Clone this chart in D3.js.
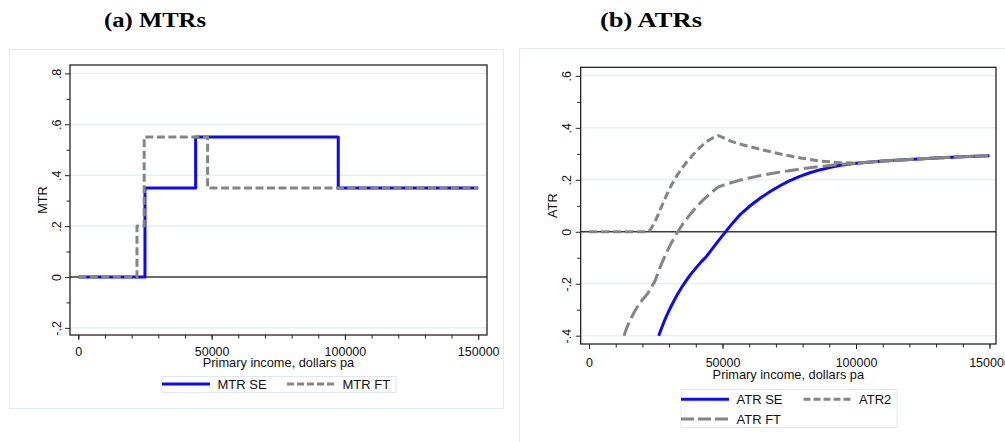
<!DOCTYPE html>
<html>
<head>
<meta charset="utf-8">
<script src="https://cdn.jsdelivr.net/npm/d3@7/dist/d3.min.js"></script>
<style>
  html, body { margin: 0; padding: 0; background: #fff; }
  svg { display: block; font-family: "Liberation Sans", Arial, sans-serif; }
</style>
</head>
<body>
<svg id="chart" width="1005" height="442"></svg>
<script>
// ---- Data -------------------------------------------------------------
// Marginal tax rates: step schedules (rate applies from the income shown)
const mtrSeIncome = [0, 25000, 44000, 97500, 150000];
const mtrSeRate   = [0, 0.35, 0.55, 0.35, 0.35];
const mtrFtIncome = [0, 22000, 24700, 48500, 150000];
const mtrFtRate   = [0, 0.20, 0.55, 0.35, 0.35];

// Average tax rates
const atrSeIncome = [26100, 27000, 28000, 29000, 30000, 31000, 32000, 33000, 34000, 35000, 36000, 38000, 40000, 42000,
                     44000, 46000, 48000, 50000, 52000, 54000, 56800, 60000, 64200, 68000, 71700, 75000, 79200, 83000,
                     86700, 90000, 94200, 100000, 110000, 120000, 130000, 140000, 150000];
const atrSeValue  = [-0.400, -0.375, -0.349, -0.325, -0.303, -0.282, -0.262, -0.243, -0.226, -0.209, -0.194, -0.165, -0.140, -0.116,
                     -0.095, -0.068, -0.041, -0.015, 0.011, 0.036, 0.068, 0.097, 0.130, 0.156, 0.178, 0.196, 0.214, 0.228,
                     0.239, 0.247, 0.256, 0.264, 0.272, 0.278, 0.284, 0.289, 0.293];

const atr2Income = [0, 22000, 23000, 24000, 25000, 26000, 27000, 28000, 29000, 30000, 31000, 32000, 33000, 34500,
                    36500, 39000, 41500, 44000, 46500, 48500, 53000, 56700, 64200, 71700, 79200, 86700, 94200,
                    100000, 110000, 120000, 130000, 140000, 150000];
const atr2Value  = [0, 0, 0.008, 0.025, 0.046, 0.069, 0.093, 0.117, 0.140, 0.162, 0.182, 0.200, 0.217, 0.240,
                    0.267, 0.297, 0.324, 0.347, 0.362, 0.370, 0.349, 0.337, 0.317, 0.299, 0.284, 0.272, 0.266,
                    0.264, 0.272, 0.278, 0.284, 0.289, 0.293];

const atrFtIncome = [13100, 14000, 15000, 16000, 17000, 18000, 19000, 20000, 21000, 22000, 23000, 24000, 24700,
                     26000, 27500, 29000, 31000, 33100, 35000, 37500, 40000, 42500, 45000, 48500, 52000, 56000,
                     60000, 65000, 70000, 75000, 80000, 85000, 90000, 95000, 100000, 110000, 120000, 130000, 140000, 150000];
const atrFtValue  = [-0.400, -0.374, -0.349, -0.328, -0.308, -0.291, -0.276, -0.262, -0.250, -0.238, -0.219, -0.202, -0.190,
                     -0.153, -0.115, -0.081, -0.040, -0.002, 0.028, 0.062, 0.093, 0.120, 0.144, 0.173, 0.185, 0.197,
                     0.207, 0.218, 0.227, 0.235, 0.243, 0.249, 0.255, 0.260, 0.264, 0.272, 0.278, 0.284, 0.289, 0.293];

// Axis ticks and labels
const xMajorTicks  = [0, 50000, 100000, 150000];
const xMajorLabels = ["0", "50000", "100000", "150000"];
const xMinorTicks  = d3.range(0, 150001, 10000);

const mtrYTicks  = [-0.2, 0, 0.2, 0.4, 0.6, 0.8];
const mtrYLabels = ["-.2", "0", ".2", ".4", ".6", ".8"];
const mtrYMinor  = [-0.1, 0.1, 0.3, 0.5, 0.7];

const atrYTicks  = [-0.4, -0.2, 0, 0.2, 0.4, 0.6];
const atrYLabels = ["-.4", "-.2", "0", ".2", ".4", ".6"];
const atrYMinor  = [-0.3, -0.1, 0.1, 0.3, 0.5];

const panelTitles = ["(a) MTRs", "(b) ATRs"];
const xTitle = "Primary income, dollars pa";

// ---- Drawing ----------------------------------------------------------
const svg = d3.select("#chart");
const BLUE = "#0a0af5", GREY = "#858585", GRID = "#e6eff1", FRAME = "#e2eaed";

const zip = (xs, ys) => xs.map((x, i) => ({ x, y: ys[i] }));

function drawPanel(p) {
  const g = svg.append("g");

  // outer frame of the panel
  g.append("rect")
    .attr("x", p.frame[0] + 0.5).attr("y", p.frame[1] + 0.5)
    .attr("width", p.frame[2]).attr("height", p.frame[3])
    .attr("fill", "none").attr("stroke", FRAME).attr("stroke-width", 1);

  const x = d3.scaleLinear().domain(p.xDomain).range([p.left, p.right]);
  const y = d3.scaleLinear().domain(p.yDomain).range([p.bottom, p.top]);

  // gridlines
  g.append("g").selectAll("line")
    .data(p.yTicks.filter(v => v !== 0))
    .join("line")
    .attr("x1", p.left).attr("x2", p.right)
    .attr("y1", d => y(d)).attr("y2", d => y(d))
    .attr("stroke", GRID).attr("stroke-width", 1.5);

  // zero line
  g.append("line")
    .attr("x1", p.left).attr("x2", p.right)
    .attr("y1", y(0)).attr("y2", y(0))
    .attr("stroke", "#3a3a3a").attr("stroke-width", 1.3);

  // series
  const lineGen = d3.line().x(d => x(d.x)).y(d => y(d.y)).curve(p.curve);
  p.series.forEach(s => {
    g.append("path")
      .datum(zip(s.xs, s.ys))
      .attr("d", lineGen)
      .attr("fill", "none")
      .attr("stroke", s.color)
      .attr("stroke-width", s.width)
      .attr("stroke-dasharray", s.dash || null)
      .attr("stroke-linejoin", "round");
  });

  // plot box
  g.append("rect")
    .attr("x", p.left).attr("y", p.top)
    .attr("width", p.right - p.left).attr("height", p.bottom - p.top)
    .attr("fill", "none").attr("stroke", "#111").attr("stroke-width", 1.2);

  // x axis: minor then major ticks
  g.append("g")
    .attr("transform", `translate(0,${p.bottom})`)
    .call(d3.axisBottom(x).tickValues(xMinorTicks).tickFormat("").tickSize(3.5).tickSizeOuter(0))
    .call(a => a.select(".domain").remove())
    .call(a => a.selectAll("line").attr("stroke", "#222"));
  g.append("g")
    .attr("transform", `translate(0,${p.bottom})`)
    .call(d3.axisBottom(x).tickValues(xMajorTicks)
      .tickFormat((d, i) => xMajorLabels[i]).tickSize(5).tickSizeOuter(0))
    .call(a => a.select(".domain").remove())
    .call(a => a.selectAll("line").attr("stroke", "#222"))
    .call(a => a.selectAll("text")
      .attr("y", p.xLabelDy).attr("dy", 0)
      .attr("font-size", 12.5).attr("fill", "#111")
      .attr("font-family", "Liberation Sans, Arial, sans-serif"));

  // y axis: minor then major ticks, labels rotated
  g.append("g")
    .attr("transform", `translate(${p.left},0)`)
    .call(d3.axisLeft(y).tickValues(p.yMinor).tickFormat("").tickSize(3.5).tickSizeOuter(0))
    .call(a => a.select(".domain").remove())
    .call(a => a.selectAll("line").attr("stroke", "#222"));
  g.append("g")
    .attr("transform", `translate(${p.left},0)`)
    .call(d3.axisLeft(y).tickValues(p.yTicks)
      .tickFormat((d, i) => p.yLabels[i]).tickSize(5).tickSizeOuter(0))
    .call(a => a.select(".domain").remove())
    .call(a => a.selectAll("line").attr("stroke", "#222"))
    .call(a => a.selectAll("text")
      .attr("x", 0).attr("dy", 0)
      .attr("text-anchor", "middle")
      .attr("transform", "translate(-9.5,0) rotate(-90)")
      .attr("font-size", 12.5).attr("fill", "#111")
      .attr("font-family", "Liberation Sans, Arial, sans-serif"));

  // axis titles
  g.append("text")
    .attr("x", (p.left + p.right) / 2).attr("y", p.bottom + p.xTitleDy)
    .attr("text-anchor", "middle").attr("font-size", 12.8).attr("fill", "#111")
    .text(xTitle);
  g.append("text")
    .attr("transform", `translate(${p.left - p.yTitleDx},${(p.top + p.bottom) / 2}) rotate(-90)`)
    .attr("text-anchor", "middle").attr("font-size", 12.8).attr("fill", "#111")
    .text(p.yTitle);

  // panel title
  svg.append("text")
    .attr("x", p.titleX).attr("y", 27)
    .attr("font-family", "Liberation Serif, 'Times New Roman', serif")
    .attr("font-weight", "bold").attr("font-size", 20)
    .attr("textLength", 102).attr("lengthAdjust", "spacingAndGlyphs")
    .attr("fill", "#000")
    .text(p.title);

  // legend
  const L = p.legend;
  g.append("rect")
    .attr("x", L.box[0] + 0.5).attr("y", L.box[1] + 0.5)
    .attr("width", L.box[2]).attr("height", L.box[3])
    .attr("fill", "#fff").attr("stroke", "#dfe9eb").attr("stroke-width", 1);
  L.items.forEach(it => {
    const s = p.series[it.series];
    g.append("line")
      .attr("x1", it.x).attr("x2", it.x + 48)
      .attr("y1", it.y).attr("y2", it.y)
      .attr("stroke", s.color).attr("stroke-width", s.width)
      .attr("stroke-dasharray", s.legendDash || null);
    g.append("text")
      .attr("x", it.x + 55.5).attr("y", it.y + 4.6)
      .attr("font-size", 13).attr("fill", "#111")
      .text(s.name);
  });
}

drawPanel({
  title: panelTitles[0], titleX: 104,
  frame: [9, 49, 494, 359],
  left: 70, right: 487, top: 65, bottom: 335,
  xDomain: [-3125, 153300], yDomain: [-0.228, 0.833],
  yTicks: mtrYTicks, yLabels: mtrYLabels, yMinor: mtrYMinor,
  yTitle: "MTR", yTitleDx: 23, xLabelDy: 21, xTitleDy: 31.5,
  curve: d3.curveStepAfter,
  series: [
    { name: "MTR SE", xs: mtrSeIncome, ys: mtrSeRate, color: BLUE, width: 3 },
    { name: "MTR FT", xs: mtrFtIncome, ys: mtrFtRate, color: GREY, width: 3, dash: "8,3.5", legendDash: "7,3" }
  ],
  legend: {
    box: [161.5, 376, 234, 16],
    items: [ { series: 0, x: 162, y: 384 }, { series: 1, x: 287, y: 384 } ]
  }
});

drawPanel({
  title: panelTitles[1], titleX: 600,
  frame: [519, 48, 500, 400],
  left: 580.7, right: 996, top: 67.3, bottom: 344,
  xDomain: [-3110, 152430], yDomain: [-0.432, 0.633],
  yTicks: atrYTicks, yLabels: atrYLabels, yMinor: atrYMinor,
  yTitle: "ATR", yTitleDx: 24, xLabelDy: 23, xTitleDy: 34.5,
  curve: d3.curveLinear,
  series: [
    { name: "ATR SE", xs: atrSeIncome, ys: atrSeValue, color: BLUE, width: 3 },
    { name: "ATR2",   xs: atr2Income,  ys: atr2Value,  color: GREY, width: 3, dash: "8,4", legendDash: "7,3" },
    { name: "ATR FT", xs: atrFtIncome, ys: atrFtValue, color: GREY, width: 3, dash: "14,5", legendDash: "13,4" }
  ],
  legend: {
    box: [680.5, 389, 216, 38],
    items: [ { series: 0, x: 681, y: 399.3 }, { series: 1, x: 803.5, y: 399.3 }, { series: 2, x: 681, y: 419 } ]
  }
});
</script>
</body>
</html>
